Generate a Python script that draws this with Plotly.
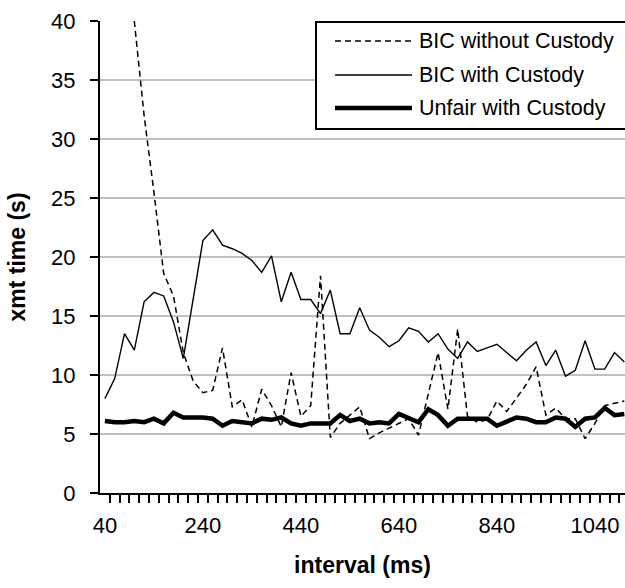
import plotly.graph_objects as go

# ---------------- data ----------------
interval_ms = [40, 60, 80, 100, 120, 140, 160, 180, 200, 220,
               240, 260, 280, 300, 320, 340, 360, 380, 400, 420,
               440, 460, 480, 500, 520, 540, 560, 580, 600, 620,
               640, 660, 680, 700, 720, 740, 760, 780, 800, 820,
               840, 860, 880, 900, 920, 940, 960, 980, 1000, 1020,
               1040, 1060, 1080, 1100]

bic_without_custody = [None, None, None, 40.0, 32.0, 25.5, 18.6, 16.7, 11.9, 9.5,
                       8.5, 8.7, 12.3, 7.3, 7.9, 5.6, 8.8, 7.4, 5.6, 10.2,
                       6.5, 7.4, 18.4, 4.7, 5.9, 6.6, 7.3, 4.6, 5.1, 5.5,
                       5.9, 6.3, 4.9, 8.5, 11.9, 7.1, 13.9, 6.5, 6.0, 6.2,
                       7.8, 6.9, 8.0, 9.2, 10.7, 6.6, 7.2, 6.3, 6.3, 4.6,
                       5.9, 7.4, 7.6, 7.8]

bic_with_custody = [8.0, 9.7, 13.5, 12.1, 16.2, 17.0, 16.7, 14.5, 11.4, 16.4,
                    21.4, 22.3, 21.0, 20.7, 20.3, 19.7, 18.7, 20.1, 16.2, 18.7,
                    16.4, 16.4, 15.2, 17.2, 13.5, 13.5, 15.7, 13.8, 13.2, 12.4,
                    12.9, 14.0, 13.7, 12.8, 13.5, 12.2, 11.4, 12.8, 12.0, 12.3,
                    12.6, 11.9, 11.2, 12.1, 12.8, 10.8, 12.1, 9.9, 10.4, 12.9,
                    10.5, 10.5, 11.9, 11.1]

unfair_with_custody = [6.1, 6.0, 6.0, 6.1, 6.0, 6.3, 5.9, 6.8, 6.4, 6.4,
                       6.4, 6.3, 5.7, 6.1, 6.0, 5.9, 6.3, 6.2, 6.4, 5.9,
                       5.7, 5.9, 5.9, 5.9, 6.6, 6.1, 6.3, 5.9, 6.0, 5.9,
                       6.7, 6.3, 6.0, 7.1, 6.6, 5.7, 6.3, 6.3, 6.3, 6.3,
                       5.7, 6.1, 6.4, 6.3, 6.0, 6.0, 6.4, 6.3, 5.6, 6.3,
                       6.4, 7.2, 6.6, 6.7]

series_names = ["BIC without Custody", "BIC with Custody", "Unfair with Custody"]
x_tick_labels = [40, 240, 440, 640, 840, 1040]
y_tick_values = [0, 5, 10, 15, 20, 25, 30, 35, 40]

# ---------------- layout constants ----------------
W, H = 625, 588
ML, MR, MT, MB = 100, 0, 21, 95
PW, PH = W - ML - MR, H - MT - MB
FONT = "Liberation Sans, Arial, sans-serif"
FS = 22
FS_LEG = 21.5
FS_TITLE = 23
DASH = "6px,4px"

cat_step = interval_ms[1] - interval_ms[0]
x_lo = interval_ms[0] - cat_step / 2          # category axis, "between tick marks"
px_per_cat = 9.8
x_hi = x_lo + PW / px_per_cat * cat_step
boundaries = [v + cat_step / 2 for v in interval_ms[:-1]]

styles = [dict(width=1.5, dash=DASH), dict(width=1.4), dict(width=4.5)]
series = [bic_without_custody, bic_with_custody, unfair_with_custody]
axes_for = ["x", "x", "x2"]   # x2 = overlay axis that carries the tick labels

fig = go.Figure()
for name, ys, st, xa in zip(series_names, series, styles, axes_for):
    fig.add_trace(go.Scatter(x=interval_ms, y=ys, mode="lines", name=name,
                             xaxis=xa, yaxis="y",
                             line=dict(color="black", **st),
                             connectgaps=False, showlegend=False))

# ---------------- custom legend (Excel-style long samples) ----------------
def px_x(p):
    return (p - ML) / PW

def px_y(p):
    return (H - MB - p) / PH

shapes = [dict(type="rect", xref="paper", yref="paper",
               x0=px_x(316), x1=px_x(660), y0=px_y(129), y1=px_y(22),
               line=dict(color="black", width=2), fillcolor="white", layer="above")]
annotations = []
rows = [41, 75, 108]
for name, st, ry in zip(series_names, styles, rows):
    shapes.append(dict(type="line", xref="paper", yref="paper",
                       x0=px_x(335), x1=px_x(412), y0=px_y(ry), y1=px_y(ry),
                       line=dict(color="black", **st), layer="above"))
    annotations.append(dict(text=name, xref="paper", yref="paper",
                            x=px_x(417), y=px_y(ry), xanchor="left", yanchor="middle",
                            showarrow=False, font=dict(family=FONT, size=FS_LEG, color="black")))

fig.update_layout(
    width=W, height=H, autosize=False,
    margin=dict(l=ML, r=MR, t=MT, b=MB, pad=0),
    paper_bgcolor="white", plot_bgcolor="white",
    font=dict(family=FONT, size=FS, color="black"),
    shapes=shapes, annotations=annotations, showlegend=False,
    xaxis=dict(
        range=[x_lo, x_hi], tickmode="array", tickvals=boundaries,
        showticklabels=False,
        ticks="outside", ticklen=8, tickwidth=1.5, tickcolor="black",
        showgrid=False, zeroline=False,
        showline=True, linecolor="black", linewidth=2,
        automargin=False,
    ),
    xaxis2=dict(
        range=[x_lo, x_hi], overlaying="x", side="bottom", anchor="y",
        tickmode="array", tickvals=x_tick_labels,
        ticktext=[str(v) for v in x_tick_labels], ticks="", ticklabelstandoff=17,
        showgrid=False, zeroline=False, showline=False,
        title=dict(text="<b>interval (ms)</b>", font=dict(family=FONT, size=FS_TITLE), standoff=19),
        automargin=False,
    ),
    yaxis=dict(
        range=[0, 40], tickmode="array", tickvals=y_tick_values,
        ticks="outside", ticklen=8, tickwidth=1.5, tickcolor="black",
        ticklabelstandoff=10,
        showgrid=True, gridcolor="#c0c0c0", gridwidth=1.5, zeroline=False,
        showline=True, linecolor="black", linewidth=2,
        title=dict(text="<b>xmt time (s)</b>", font=dict(family=FONT, size=FS_TITLE), standoff=19),
        automargin=False,
    ),
)

fig.write_html("out.html", config={"displayModeBar": False},
               post_script="document.body.style.margin='0';document.body.style.overflow='hidden';")
